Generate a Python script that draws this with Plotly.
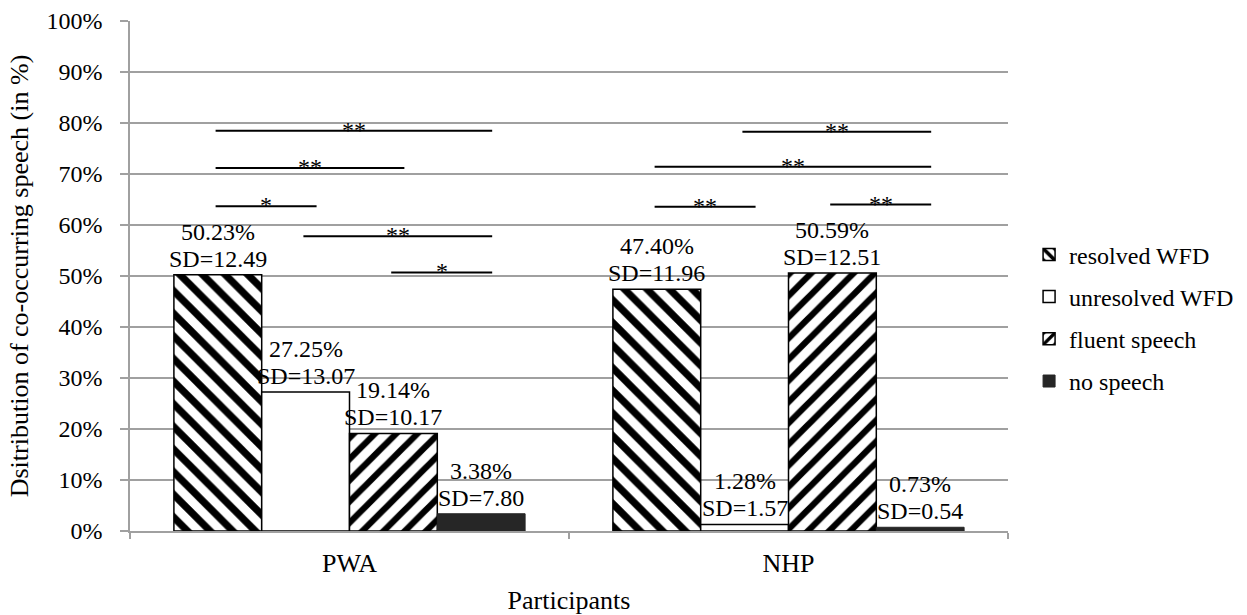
import plotly.graph_objects as go

# ---- data ----
categories = ["PWA", "NHP"]
series_names = ["resolved WFD", "unresolved WFD", "fluent speech", "no speech"]
resolved = [50.23, 47.40]
unresolved = [27.25, 1.28]
fluent = [19.14, 50.59]
no_speech = [3.38, 0.73]
resolved_sd = [12.49, 11.96]
unresolved_sd = [13.07, 1.57]
fluent_sd = [10.17, 12.51]
no_speech_sd = [7.80, 0.54]

# significance comparisons (group, from series index, to series index, level %, label)
sig_group = ["PWA", "PWA", "PWA", "PWA", "PWA", "NHP", "NHP", "NHP", "NHP"]
sig_from = [0, 0, 0, 1, 2, 1, 0, 0, 2]
sig_to = [3, 2, 1, 3, 3, 3, 3, 1, 3]
sig_level = [78.5, 71.2, 63.7, 57.8, 50.7, 78.3, 71.4, 63.6, 64.0]
sig_label = ["**", "**", "*", "**", "*", "**", "**", "**", "**"]

values = [resolved, unresolved, fluent, no_speech]
sds = [resolved_sd, unresolved_sd, fluent_sd, no_speech_sd]

FONT = "Liberation Serif"
GRID = "#a0a0a0"

styles = [
    dict(color="white", line=dict(color="black", width=1.5),
         pattern=dict(shape="\\", fgcolor="black", bgcolor="white", size=16, solidity=0.45, fillmode="replace")),
    dict(color="white", line=dict(color="black", width=1.5)),
    dict(color="white", line=dict(color="black", width=1.5),
         pattern=dict(shape="/", fgcolor="black", bgcolor="white", size=15, solidity=0.42, fillmode="replace")),
    dict(color="#262626", line=dict(color="#262626", width=1)),
]

fig = go.Figure()
for k, name in enumerate(series_names):
    fig.add_trace(go.Bar(
        x=categories, y=values[k], name=name, marker=styles[k],
        legendgroup=name, hoverinfo="skip",
    ))

n = len(series_names)
bar_w = 0.8 / n

def bar_center(cat_idx, k):
    return cat_idx + (k - (n - 1) / 2) * bar_w

annotations = []
for k in range(n):
    for i, cat in enumerate(categories):
        xc = bar_center(i, k)
        v = values[k][i]
        annotations.append(dict(x=xc, y=v, xref="x", yref="y", text=f"SD={sds[k][i]:.2f}",
                                showarrow=False, yanchor="middle", yshift=16,
                                font=dict(family=FONT, size=24, color="black")))
        annotations.append(dict(x=xc, y=v, xref="x", yref="y", text=f"{v:.2f}%",
                                showarrow=False, yanchor="middle", yshift=43,
                                font=dict(family=FONT, size=24, color="black")))

shapes = []
for g, a, b, lvl, lab in zip(sig_group, sig_from, sig_to, sig_level, sig_label):
    ci = categories.index(g)
    x0 = bar_center(ci, a) - 0.005
    x1 = bar_center(ci, b) + 0.025
    shapes.append(dict(type="line", xref="x", yref="y", x0=x0, x1=x1, y0=lvl, y1=lvl,
                       line=dict(color="black", width=2)))
    annotations.append(dict(x=(x0 + x1) / 2, y=lvl, xref="x", yref="y", text=lab,
                            showarrow=False, yanchor="middle", yshift=1,
                            font=dict(family=FONT, size=24, color="black")))

fig.update_layout(
    width=1247, height=615,
    margin=dict(l=130, r=239, t=21, b=84, autoexpand=False),
    paper_bgcolor="white", plot_bgcolor="white",
    barmode="group", bargap=0.2, bargroupgap=0,
    font=dict(family=FONT, size=24, color="black"),
    showlegend=True,
    legend=dict(x=1.024, xanchor="left", y=0.418, yanchor="middle",
                font=dict(family=FONT, size=24, color="black"),
                traceorder="grouped", tracegroupgap=8, bgcolor="rgba(0,0,0,0)"),
    shapes=shapes, annotations=annotations,
)
fig.update_xaxes(
    type="category", showline=True, linecolor=GRID, linewidth=1.5, automargin=False,
    ticks="outside", tickson="boundaries", ticklen=6, tickcolor=GRID, tickwidth=1.5,
    showgrid=False, tickfont=dict(family=FONT, size=26, color="black"), ticklabelstandoff=8,
    title=dict(text="Participants", font=dict(family=FONT, size=26, color="black"), standoff=16),
    range=[-0.5, 1.5],
)
fig.update_yaxes(
    range=[0, 100], dtick=10, ticksuffix="%", automargin=False,
    showline=True, linecolor=GRID, linewidth=1.5,
    ticks="outside", ticklen=8, tickcolor=GRID, tickwidth=1.5,
    showgrid=True, gridcolor=GRID, gridwidth=1.5, zeroline=False,
    tickfont=dict(family=FONT, size=24, color="black"), ticklabelstandoff=13,
    title=dict(text="Dsitribution of co-occurring speech (in %)",
               font=dict(family=FONT, size=26, color="black"), standoff=10),
)

fig.write_html("out.html", config={"displayModeBar": False},
               post_script="document.body.style.margin='0';")
